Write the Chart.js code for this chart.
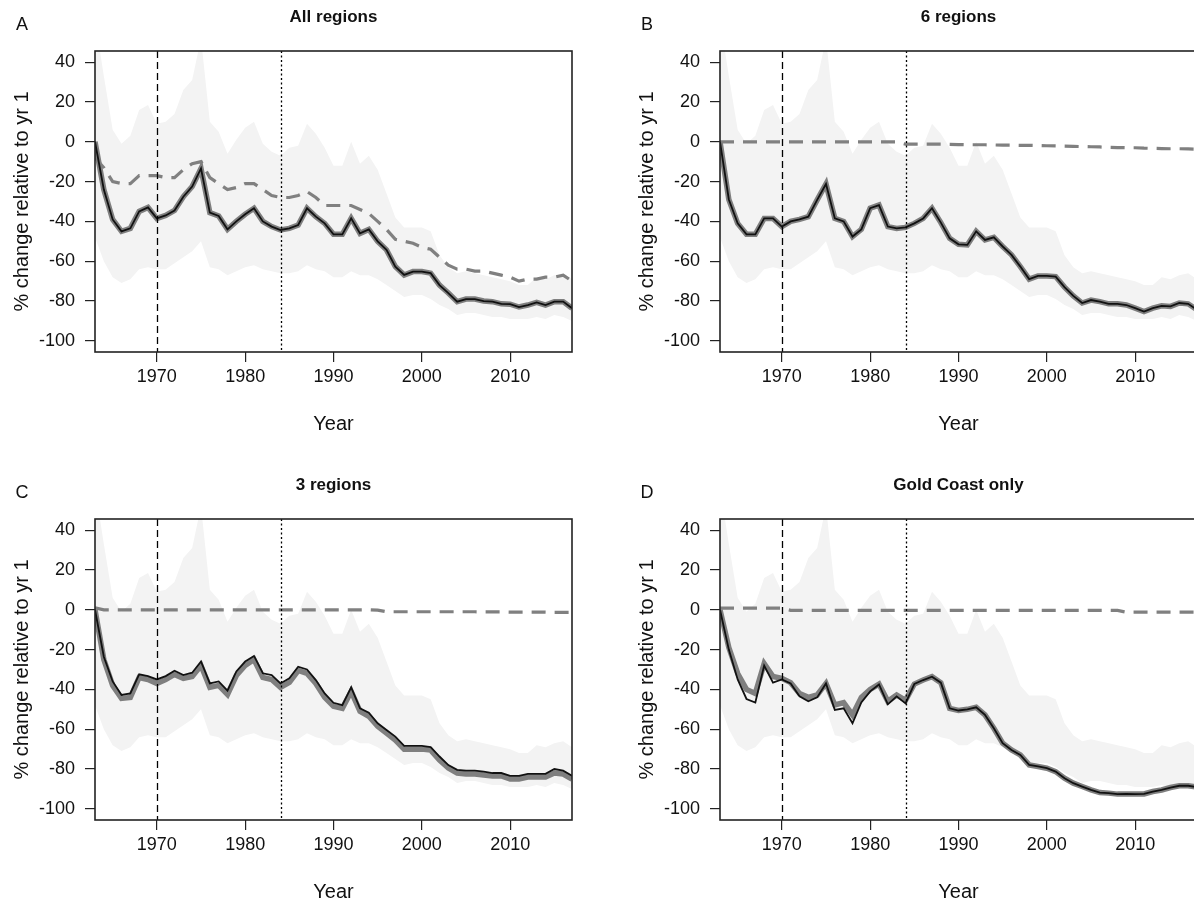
<!DOCTYPE html>
<html lang="en">
<head>
<meta charset="UTF-8">
<title>% change relative to yr 1</title>
<script src="https://cdn.jsdelivr.net/npm/chart.js"></script>
<style>
  html, body { margin: 0; padding: 0; background: #fff; overflow: hidden; width: 1194px; height: 905px; }
  .panel { position: absolute; width: 597px; height: 468px; }
</style>
</head>
<body>
<div class="panel" style="left:0;top:0"><canvas id="chartA" width="597" height="468"></canvas></div>
<div class="panel" style="left:625px;top:0"><canvas id="chartB" width="597" height="468"></canvas></div>
<div class="panel" style="left:0;top:468px"><canvas id="chartC" width="597" height="468"></canvas></div>
<div class="panel" style="left:625px;top:468px"><canvas id="chartD" width="597" height="468"></canvas></div>

<script>
const years = [1963, 1964, 1965, 1966, 1967, 1968, 1969, 1970, 1971, 1972,
  1973, 1974, 1975, 1976, 1977, 1978, 1979, 1980, 1981, 1982,
  1983, 1984, 1985, 1986, 1987, 1988, 1989, 1990, 1991, 1992,
  1993, 1994, 1995, 1996, 1997, 1998, 1999, 2000, 2001, 2002,
  2003, 2004, 2005, 2006, 2007, 2008, 2009, 2010, 2011, 2012,
  2013, 2014, 2015, 2016, 2017];
const xTicks = [1970, 1980, 1990, 2000, 2010];
const yTicks = [-100, -80, -60, -40, -20, 0, 20, 40];
const markerYears = [1970, 1984]; // dashed, dotted

// shaded envelope (same in every panel)
const bandUpper = [62, 33, 6, -1, 3, 16, 18.5, 9, 10, 14,
  26, 31, 52, 10, 5, -6, 1, 7, 10, -1,
  -5, -7, -3, -2, 9, 4, -3, -12, -12, 0,
  -11, -7, -14, -26, -38, -43, -43, -43, -45, -57,
  -63, -66, -65, -66, -67, -68, -69, -70, -72, -72,
  -68, -69, -67, -66, -69];
const bandLower = [-48, -60, -68, -71, -69, -64, -63, -64, -64, -61,
  -58, -55, -50, -63, -64, -67, -65, -63, -62, -64,
  -65, -66, -66, -65, -62, -64, -65, -68, -68, -65,
  -67, -67, -69, -72, -75, -78, -77, -77, -79, -82,
  -84, -87, -86, -86, -87, -88, -88, -89, -89, -89,
  -88, -89, -87, -88, -90];

// A: All regions
const allLine = [0, -24, -39, -45, -43.5, -35, -33, -38.5, -37, -34.5,
  -27.6, -22.5, -13.4, -35.6, -37.3, -44, -40, -36.4, -33.4, -40,
  -42.6, -44.3, -43.5, -41.8, -33.4, -37.6, -41, -46.5, -46.5, -38.4,
  -46, -44, -50, -54.3, -62.7, -66.9, -65.2, -65.2, -66, -72,
  -76, -80.3, -79, -79, -80, -80.3, -81.4, -81.6, -83, -82,
  -80.7, -82, -80.3, -80.3, -83.6];
const allDashed = [-8, -13, -20, -21, -21, -17, -17, -17, -18, -18,
  -14, -11, -10, -18, -21, -24, -23, -21, -21, -24,
  -27, -28, -28, -27, -25, -28, -32, -32, -32, -32,
  -34, -36, -40, -44, -49, -50, -51, -53, -54, -58,
  -62, -64, -64, -65, -65, -66, -67, -68, -70, -69,
  -69, -68, -68, -67, -70];

// B: 6 regions
const sixLine = [0, -29, -41, -46.5, -46.5, -38.5, -38.5, -42.6, -40, -39,
  -37.6, -29.2, -21.2, -38.5, -40, -47.6, -44, -33.4, -31.8, -42.6,
  -43.5, -43, -41, -38.5, -33.4, -40.6, -48.5, -51.5, -51.8, -45,
  -49.3, -48, -52.6, -56.8, -62.7, -69, -67.4, -67.4, -67.7, -73,
  -77.4, -81, -79.5, -80.3, -81.4, -81.4, -82, -83.6, -85.3, -83.6,
  -82.4, -82.7, -81, -81.4, -84.4];
const sixDashed = [0, 0, 0, 0, 0, 0, 0, 0, 0, 0,
  0, 0, 0, 0, 0, 0, 0, 0, 0, 0,
  0, -1.2, -1.2, -1.2, -1.2, -1.2, -1.3, -1.4, -1.5, -1.5,
  -1.5, -1.6, -1.7, -1.7, -1.8, -1.8, -1.9, -2, -2.1, -2.2,
  -2.3, -2.4, -2.5, -2.6, -2.8, -2.9, -3, -3, -3.2, -3.3,
  -3.4, -3.5, -3.5, -3.6, -3.7];

// C: 3 regions
const threeGray = [0, -25, -38, -44.5, -44, -34, -35, -37, -35, -32.5,
  -34.5, -33.5, -28, -39, -38, -42.5, -33, -28, -25, -34,
  -35, -39, -36.5, -30.5, -32, -37, -44, -48.5, -49.5, -41,
  -51, -53.5, -58.5, -62, -65.5, -70, -70, -70, -70.5, -75.5,
  -79.5, -82, -82.5, -82.5, -83, -83.5, -83.5, -85, -85, -84,
  -84, -84, -82, -82.5, -85];
const threeLine = [0, -23.6, -36, -42.8, -42, -32.4, -33.3, -35, -33.3, -30.6,
  -32.8, -31.6, -26, -37, -36, -40.6, -31, -26, -23.2, -31.9,
  -32.8, -37, -34.4, -28.6, -30, -35.3, -42, -46.7, -47.9, -39,
  -49.5, -51.7, -57, -60.4, -63.7, -68.4, -68.4, -68.4, -69, -73.7,
  -78, -80.4, -80.8, -80.8, -81.3, -82, -82, -83.4, -83.4, -82.4,
  -82.4, -82.4, -80, -80.8, -83.4];
const threeDashed = [1, 0, 0, 0, 0, 0, 0, 0, 0, 0,
  0, 0, 0, 0, 0, 0, 0, 0, 0, 0,
  0, 0, 0, 0, 0, 0, 0, 0, 0, 0,
  0, 0, -0.2, -1, -1, -1, -1, -1, -1, -1,
  -1, -1, -1, -1, -1.1, -1.1, -1.1, -1.2, -1.2, -1.2,
  -1.2, -1.2, -1.3, -1.3, -1.3];

// D: Gold Coast only
const goldGray = [0, -19, -32, -40, -42, -27, -33.5, -34.4, -36.6, -42,
  -44, -42.8, -37, -47.8, -46.6, -52.8, -44, -40, -37.3, -46,
  -42.8, -45.5, -37.3, -35.3, -33.6, -36.6, -49.5, -50.6, -50, -49,
  -52.8, -59.5, -67, -70.4, -72.9, -77.9, -78.7, -79.6, -81.3, -84.6,
  -87.1, -88.8, -90.5, -91.8, -92.1, -92.6, -92.5, -92.6, -92.5, -91.3,
  -90.5, -89.3, -88.4, -88.4, -89.1];
const goldLine = [0, -20, -35, -44.8, -46.6, -28, -36.6, -35, -37, -43.5,
  -46, -44, -37, -50.3, -49.5, -57, -46.5, -41, -37.5, -47.5,
  -43.5, -47, -37.3, -35.3, -33.6, -36.6, -49.5, -50.6, -50, -49,
  -52.8, -59.5, -67, -70.4, -72.9, -77.9, -78.7, -79.6, -81.3, -84.6,
  -87.1, -88.8, -90.5, -91.8, -92.1, -92.6, -92.5, -92.6, -92.5, -91.3,
  -90.5, -89.3, -88.4, -88.4, -89.1];
const goldDashed = [0.8, 0.8, 0.8, 0.8, 0.8, 0.8, 0.8, 0.8, -0.3, -0.3,
  -0.3, -0.3, -0.3, -0.3, -0.3, -0.3, -0.3, -0.3, -0.3, -0.3,
  -0.3, -0.3, -0.3, -0.3, -0.3, -0.3, -0.3, -0.3, -0.3, -0.3,
  -0.3, -0.3, -0.3, -0.3, -0.3, -0.3, -0.3, -0.3, -0.3, -0.3,
  -0.3, -0.3, -0.3, -0.3, -0.3, -0.3, -1.2, -1.2, -1.2, -1.2,
  -1.2, -1.2, -1.2, -1.2, -1.2];

const FONT = '"Liberation Sans", Arial, Helvetica, sans-serif';

function pts(vals) {
  return years.map((yr, i) => ({ x: yr, y: vals[i] }));
}

function makeChart(id, letter, title, grayVals, lineVals, dashVals) {
  const textPlugin = {
    id: 'panelText',
    afterDatasetsDraw(chart) {
      const ctx = chart.ctx;
      const ca = chart.chartArea;
      const xs = chart.scales.x;
      ctx.save();
      ctx.strokeStyle = '#000';
      ctx.lineWidth = 1.3;
      markerYears.forEach((yr, i) => {
        const px = Math.round(xs.getPixelForValue(yr)) + 0.5;
        ctx.setLineDash(i === 0 ? [7, 4] : [2, 2.5]);
        ctx.beginPath();
        ctx.moveTo(px, ca.top);
        ctx.lineTo(px, ca.bottom);
        ctx.stroke();
      });
      ctx.restore();
    },
    afterDraw(chart) {
      const ctx = chart.ctx;
      const ca = chart.chartArea;
      const cx = (ca.left + ca.right) / 2;
      ctx.save();
      ctx.strokeStyle = '#222';
      ctx.lineWidth = 1.6;
      ctx.strokeRect(ca.left, ca.top, ca.right - ca.left, ca.bottom - ca.top);

      ctx.fillStyle = '#111';
      ctx.textBaseline = 'middle';
      ctx.textAlign = 'center';
      ctx.font = '18px ' + FONT;
      ctx.fillText(letter, 22, 25);
      ctx.font = 'bold 17px ' + FONT;
      ctx.fillText(title, cx, 17);
      ctx.font = '20px ' + FONT;
      ctx.fillText('Year', cx, 424);
      ctx.translate(22, (ca.top + ca.bottom) / 2);
      ctx.rotate(-Math.PI / 2);
      ctx.fillText('% change relative to yr 1', 0, 0);
      ctx.restore();
    }
  };

  return new Chart(document.getElementById(id), {
    type: 'line',
    data: {
      datasets: [
        { data: pts(lineVals), borderColor: '#111', borderWidth: 1.8, order: 1 },
        { data: pts(grayVals), borderColor: '#7f7f7f', borderWidth: 5.5, order: 2 },
        { data: pts(dashVals), borderColor: '#808080', borderWidth: 3.2, borderDash: [14, 9], order: 3 },
        { data: pts(bandUpper), borderColor: 'rgba(0,0,0,0)', borderWidth: 0,
          backgroundColor: '#f3f3f3', fill: '+1', order: 4 },
        { data: pts(bandLower), borderColor: 'rgba(0,0,0,0)', borderWidth: 0, fill: false, order: 5 }
      ]
    },
    options: {
      responsive: false,
      animation: false,
      devicePixelRatio: 1,
      layout: { padding: { top: 51, right: 25, left: 0, bottom: 0 } },
      elements: { point: { radius: 0 }, line: { tension: 0 } },
      plugins: { legend: { display: false }, tooltip: { enabled: false } },
      scales: {
        x: {
          type: 'linear', min: 1963, max: 2017,
          afterBuildTicks: s => { s.ticks = xTicks.map(v => ({ value: v })); },
          afterFit: s => { s.height = 116; },
          border: { display: false },
          grid: { drawOnChartArea: false, drawTicks: true, tickLength: 10, color: '#222', lineWidth: 1.2 },
          ticks: { font: { family: FONT, size: 18 }, color: '#111', padding: 4,
                   maxRotation: 0, autoSkip: false, callback: v => String(v) }
        },
        y: {
          min: -105.6, max: 45.6,
          afterBuildTicks: s => { s.ticks = yTicks.map(v => ({ value: v })); },
          afterFit: s => { s.width = 95; },
          border: { display: false },
          grid: { drawOnChartArea: false, drawTicks: true, tickLength: 10, color: '#222', lineWidth: 1.2 },
          ticks: { font: { family: FONT, size: 18 }, color: '#111', padding: 10,
                   autoSkip: false, callback: v => String(v) }
        }
      }
    },
    plugins: [textPlugin]
  });
}

makeChart('chartA', 'A', 'All regions', allLine, allLine, allDashed);
makeChart('chartB', 'B', '6 regions', sixLine, sixLine, sixDashed);
makeChart('chartC', 'C', '3 regions', threeGray, threeLine, threeDashed);
makeChart('chartD', 'D', 'Gold Coast only', goldGray, goldLine, goldDashed);
</script>
</body>
</html>
